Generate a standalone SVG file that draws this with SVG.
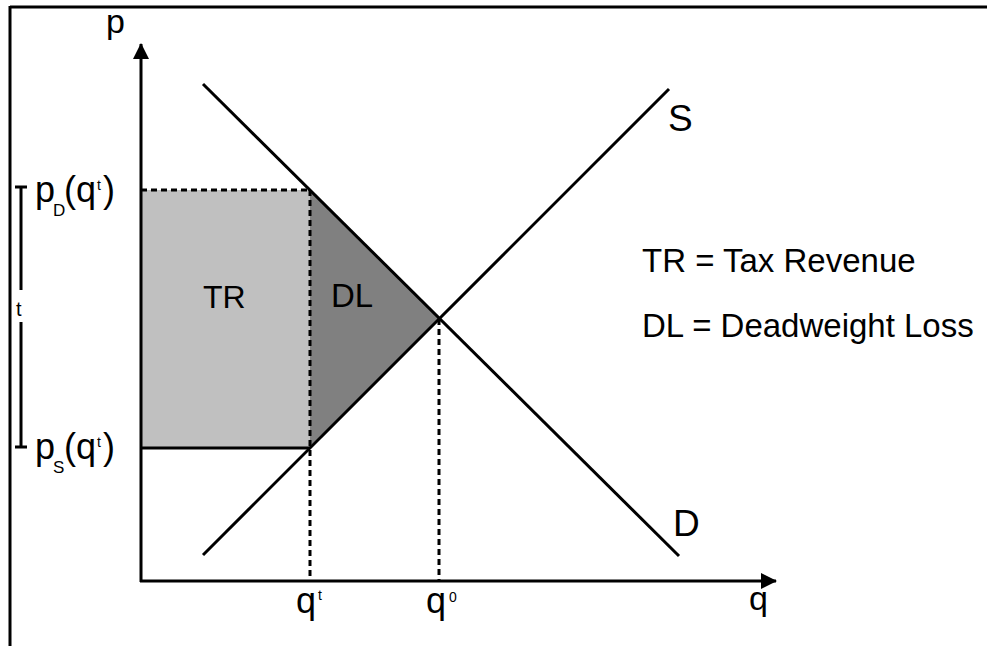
<svg xmlns="http://www.w3.org/2000/svg" width="987" height="646" viewBox="0 0 987 646">
<style>
.ln{stroke:#000;stroke-width:3;fill:none}
.dash{stroke:#000;stroke-width:3;fill:none;stroke-dasharray:6 4}
.t{font-family:"Liberation Sans",Arial,sans-serif;fill:#000}
</style>
<defs>
<marker id="ah" viewBox="0 0 16 16" refX="15" refY="8" markerWidth="16" markerHeight="16" markerUnits="userSpaceOnUse" orient="auto">
<path d="M0,0 L16,8 L0,16 Z" fill="#000"/>
</marker>
</defs>
<rect x="0" y="0" width="987" height="646" fill="#fff"/>
<g id="frame">
<line x1="10" y1="7" x2="987" y2="7" stroke="#000" stroke-width="3"/>
<line x1="10" y1="6" x2="10" y2="646" stroke="#000" stroke-width="3"/>
</g>
<g id="TR-area"><rect x="141" y="190" width="169" height="258" fill="#c0c0c0"/><text class="t" x="203" y="308" font-size="32">TR</text></g>
<g id="DL-area"><polygon points="310,190 439,319 310,448" fill="#808080"/><text class="t" x="331" y="307" font-size="33">DL</text></g>
<g id="connectors">
<line class="ln" x1="141" y1="582" x2="141" y2="44" marker-end="url(#ah)"/>
<line class="ln" x1="140" y1="581" x2="776" y2="581" marker-end="url(#ah)"/>
<line class="ln" x1="203" y1="84" x2="679" y2="556"/>
<line class="ln" x1="203" y1="555" x2="669" y2="89"/>
<line class="ln" x1="141" y1="448" x2="310" y2="448"/>
<line class="dash" x1="141" y1="190" x2="310" y2="190"/>
<line class="dash" x1="310" y1="190" x2="310" y2="580"/>
<line class="dash" x1="439" y1="319" x2="439" y2="580"/>
<path class="ln" d="M21,187 V290 M21,322 V447 M15,187 H27 M15,447 H27"/>
</g>
<g id="labels">
<text class="t" x="106" y="33" font-size="34">p</text>
<text class="t" x="749" y="610" font-size="34">q</text>
<text class="t" x="668" y="131" font-size="37">S</text>
<text class="t" x="673" y="536" font-size="37">D</text>
<text class="t" x="16" y="316" font-size="20">t</text>
<text class="t" x="296" y="613" font-size="36">q<tspan x="318" y="600" font-size="14">t</tspan></text>
<text class="t" x="426" y="613" font-size="36">q<tspan x="449" y="602" font-size="14">0</tspan></text>
<text class="t" font-size="36"><tspan x="35" y="202">p</tspan><tspan x="53" y="216" font-size="17">D</tspan><tspan x="64" y="202">(q</tspan><tspan x="97" y="190" font-size="14">t</tspan><tspan x="103" y="202">)</tspan></text>
<text class="t" font-size="36"><tspan x="35" y="459">p</tspan><tspan x="53" y="473" font-size="17">S</tspan><tspan x="64" y="459">(q</tspan><tspan x="97" y="447" font-size="14">t</tspan><tspan x="103" y="459">)</tspan></text>
<text class="t" x="642" y="272" font-size="33">TR = Tax Revenue</text>
<text class="t" x="642" y="337" font-size="33">DL = Deadweight Loss</text>
</g>
</svg>
